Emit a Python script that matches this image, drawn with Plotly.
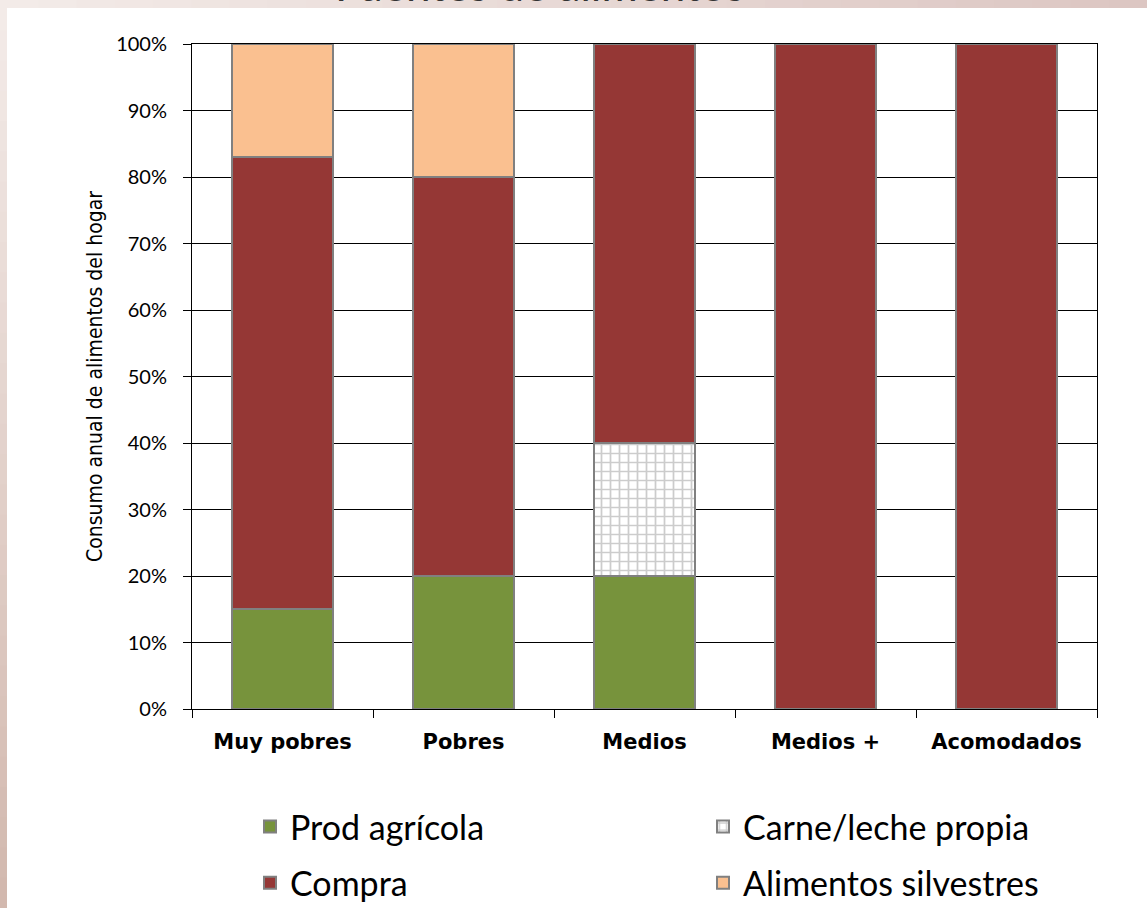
import plotly.graph_objects as go

categories = ["Muy pobres", "Pobres", "Medios", "Medios +", "Acomodados"]
prod_agricola = [15, 20, 20, 0, 0]
carne_leche = [0, 0, 20, 0, 0]
compra = [68, 60, 60, 100, 100]
silvestres = [17, 20, 0, 0, 0]
y_ticks = [0, 10, 20, 30, 40, 50, 60, 70, 80, 90, 100]
y_ticktext = [f"{v}%" for v in y_ticks]

W, H = 1147, 908
L, R, T, B = 192, 50, 44, 199
pw, ph = W - L - R, H - T - B

def px_x(p):
    return (p - L) / pw

def px_y(p):
    return (H - B - p) / ph

line = dict(color="#808080", width=2)
fig = go.Figure()
fig.add_bar(x=categories, y=prod_agricola, name="Prod agrícola", legendgroup="a",
            marker=dict(color="#77933C", line=line), legend="legend")
fig.add_bar(x=categories, y=carne_leche, name="Carne/leche propia", legendgroup="b",
            marker=dict(color="white", line=line,
                        pattern=dict(shape="+", fgcolor="#9a9a9a", bgcolor="white",
                                     size=9, solidity=0.35)),
            legend="legend2")
fig.add_bar(x=categories, y=compra, name="Compra", legendgroup="c",
            marker=dict(color="#953735", line=line), legend="legend")
fig.add_bar(x=categories, y=silvestres, name="Alimentos silvestres", legendgroup="d",
            marker=dict(color="#FAC090", line=line), legend="legend2")

# background gradient strips (outer frame)
shapes = []
n = 30
def mix(c1, c2, t):
    return "rgb(%d,%d,%d)" % tuple(round(a + (b - a) * t) for a, b in zip(c1, c2))
top_a, top_b = (243, 235, 232), (220, 198, 194)
left_a, left_b = (243, 235, 232), (210, 184, 174)
for i in range(n):
    x0 = i * W / n
    x1 = (i + 1) * W / n + 1
    shapes.append(dict(type="rect", xref="paper", yref="paper",
                       x0=px_x(x0), x1=px_x(x1), y0=px_y(8), y1=px_y(0),
                       fillcolor=mix(top_a, top_b, i / (n - 1)), line_width=0, layer="below"))
for i in range(n):
    y0 = i * H / n
    y1 = (i + 1) * H / n + 1
    shapes.append(dict(type="rect", xref="paper", yref="paper",
                       x0=px_x(0), x1=px_x(7), y0=px_y(y1), y1=px_y(y0),
                       fillcolor=mix(left_a, left_b, i / (n - 1)), line_width=0, layer="below"))

leg_common = dict(orientation="v", font=dict(size=34, family="Lato"),
                  tracegroupgap=9, itemsizing="constant", traceorder="grouped",
                  bgcolor="rgba(0,0,0,0)", xanchor="left", yanchor="top")

fig.update_layout(
    width=W, height=H,
    barmode="stack", bargap=0.447,
    paper_bgcolor="white", plot_bgcolor="white",
    margin=dict(l=L, r=R, t=T, b=B, autoexpand=False),
    font=dict(family="Lato", color="black"),
    shapes=shapes,
    showlegend=True,
    legend=dict(x=px_x(250), y=px_y(798), **leg_common),
    legend2=dict(x=px_x(703), y=px_y(798), **leg_common),
    annotations=[dict(text="Fuentes de alimentos", xref="paper", yref="paper",
                      x=px_x(540), y=px_y(-16), xanchor="center", yanchor="middle",
                      showarrow=False, font=dict(size=44, family="Lato", color="#333"))],
)
fig.update_xaxes(showline=True, linecolor="black", linewidth=1, mirror=True,
                 ticks="outside", tickson="boundaries", ticklen=8, tickcolor="black",
                 tickfont=dict(size=21, family="DejaVu Sans", weight="bold"),
                 ticklabelstandoff=14, showgrid=False)
fig.update_yaxes(range=[0, 100], tickvals=y_ticks, ticktext=y_ticktext,
                 showline=True, linecolor="black", linewidth=1, mirror=True,
                 ticks="outside", ticklen=8, tickcolor="black",
                 showgrid=True, gridcolor="black", gridwidth=1,
                 tickfont=dict(size=20, family="Lato"), ticklabelstandoff=12,
                 title=dict(text="Consumo anual de alimentos del hogar",
                            font=dict(size=21, family="DejaVu Sans Condensed, Liberation Sans Narrow, Arial Narrow, sans-serif"),
                            standoff=7))

fig.write_html("out.html", config={"displayModeBar": False},
               post_script="document.body.style.margin='0';document.body.style.overflow='hidden';")
